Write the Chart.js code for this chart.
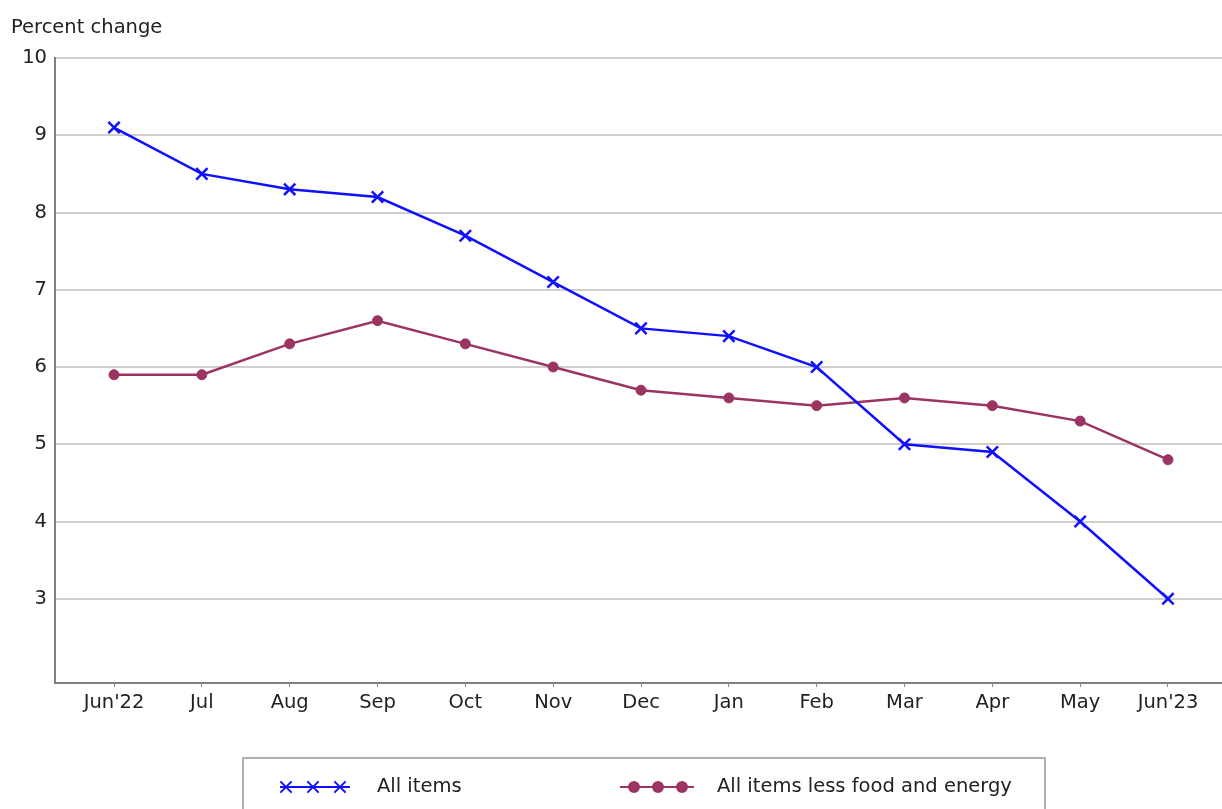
<!DOCTYPE html>
<html>
<head>
<meta charset="utf-8">
<script src="https://cdn.jsdelivr.net/npm/chart.js@4/dist/chart.umd.min.js"></script>
<style>
html,body{margin:0;padding:0;background:#fff;}
#wrap{width:1222px;height:809px;position:relative;}
</style>
</head>
<body>
<div id="wrap"><canvas id="c" width="1222" height="809"></canvas></div>
<script>
const categories = ["Jun'22","Jul","Aug","Sep","Oct","Nov","Dec","Jan","Feb","Mar","Apr","May","Jun'23"];
const allItems = [9.1, 8.5, 8.3, 8.2, 7.7, 7.1, 6.5, 6.4, 6.0, 5.0, 4.9, 4.0, 3.0];
const coreItems = [5.9, 5.9, 6.3, 6.6, 6.3, 6.0, 5.7, 5.6, 5.5, 5.6, 5.5, 5.3, 4.8];
const yTicks = [3, 4, 5, 6, 7, 8, 9, 10];
const seriesNames = ["All items", "All items less food and energy"];
const yAxisTitle = "Percent change";

const FONT = '"DejaVu Sans", sans-serif';
const BLUE = '#1010ff';
const MAROON = '#9b3463';

const toPts = arr => arr.map((v, i) => ({x: i, y: v}));

const extras = {
  id: 'extras',
  afterDraw(chart) {
    const ctx = chart.ctx;
    ctx.save();
    ctx.fillStyle = '#222';
    ctx.font = '19.5px ' + FONT;
    ctx.textBaseline = 'middle';
    ctx.textAlign = 'left';
    ctx.fillText(yAxisTitle, 11, 28);
    // legend box
    ctx.strokeStyle = '#b0b0b0';
    ctx.lineWidth = 2;
    ctx.strokeRect(243, 758, 802, 60);
    const ly = 787;
    const ds = chart.data.datasets;
    const drawSample = (x0, x1, marks, d) => {
      ctx.strokeStyle = d.borderColor;
      ctx.lineWidth = 2;
      ctx.beginPath(); ctx.moveTo(x0, ly); ctx.lineTo(x1, ly); ctx.stroke();
      marks.forEach(mx => {
        Chart.helpers.drawPoint(ctx, {pointStyle: d.pointStyle, radius: d.pointRadius, borderWidth: 2, rotation: 0}, mx, ly);
      });
    };
    ctx.fillStyle = BLUE; ctx.strokeStyle = BLUE;
    drawSample(280, 350, [286, 313, 340], ds[0]);
    ctx.fillStyle = MAROON; ctx.strokeStyle = MAROON;
    drawSample(620, 694, [634, 658, 682], ds[1]);
    ctx.fillStyle = '#222';
    ctx.font = '19.5px ' + FONT;
    ctx.textAlign = 'left';
    ctx.fillText(seriesNames[0], 377, ly);
    ctx.fillText(seriesNames[1], 717, ly);
    ctx.restore();
  }
};

new Chart(document.getElementById('c'), {
  type: 'line',
  data: {
    datasets: [
      {label: seriesNames[0], data: toPts(allItems), borderColor: BLUE, backgroundColor: BLUE,
       borderWidth: 2.5, pointStyle: 'crossRot', pointRadius: 8, pointBorderWidth: 2.5, tension: 0},
      {label: seriesNames[1], data: toPts(coreItems), borderColor: MAROON, backgroundColor: MAROON,
       borderWidth: 2.5, pointStyle: 'circle', pointRadius: 5, pointBorderWidth: 1, tension: 0}
    ]
  },
  options: {
    responsive: false,
    animation: false,
    layout: {autoPadding: false, padding: {top: 58, right: 0, bottom: 86, left: 0}},
    plugins: {legend: {display: false}, tooltip: {enabled: false}, title: {display: false}},
    scales: {
      x: {
        type: 'linear',
        min: -0.672, max: 12.615,
        afterBuildTicks: s => { s.ticks = categories.map((c, i) => ({value: i})); },
        afterFit: s => { s.height = 40; s.paddingRight = 0; s.paddingLeft = 0; },
        ticks: {
          callback: v => categories[v],
          color: '#222', font: {family: FONT, size: 19.5}, padding: 4, maxRotation: 0, autoSkip: false
        },
        grid: {drawOnChartArea: false, drawTicks: true, tickLength: 4, color: '#888', lineWidth: 1},
        border: {color: '#808080', width: 2}
      },
      y: {
        min: 1.91, max: 10,
        afterBuildTicks: s => { s.ticks = yTicks.map(v => ({value: v})); },
        afterFit: s => { s.width = 55; s.paddingTop = 0; s.paddingBottom = 0; },
        ticks: {color: '#222', font: {family: FONT, size: 19.5}, padding: 8},
        grid: {color: '#cfcfcf', lineWidth: 2, drawTicks: false},
        border: {color: '#808080', width: 2}
      }
    }
  },
  plugins: [extras]
});
</script>
</body>
</html>
